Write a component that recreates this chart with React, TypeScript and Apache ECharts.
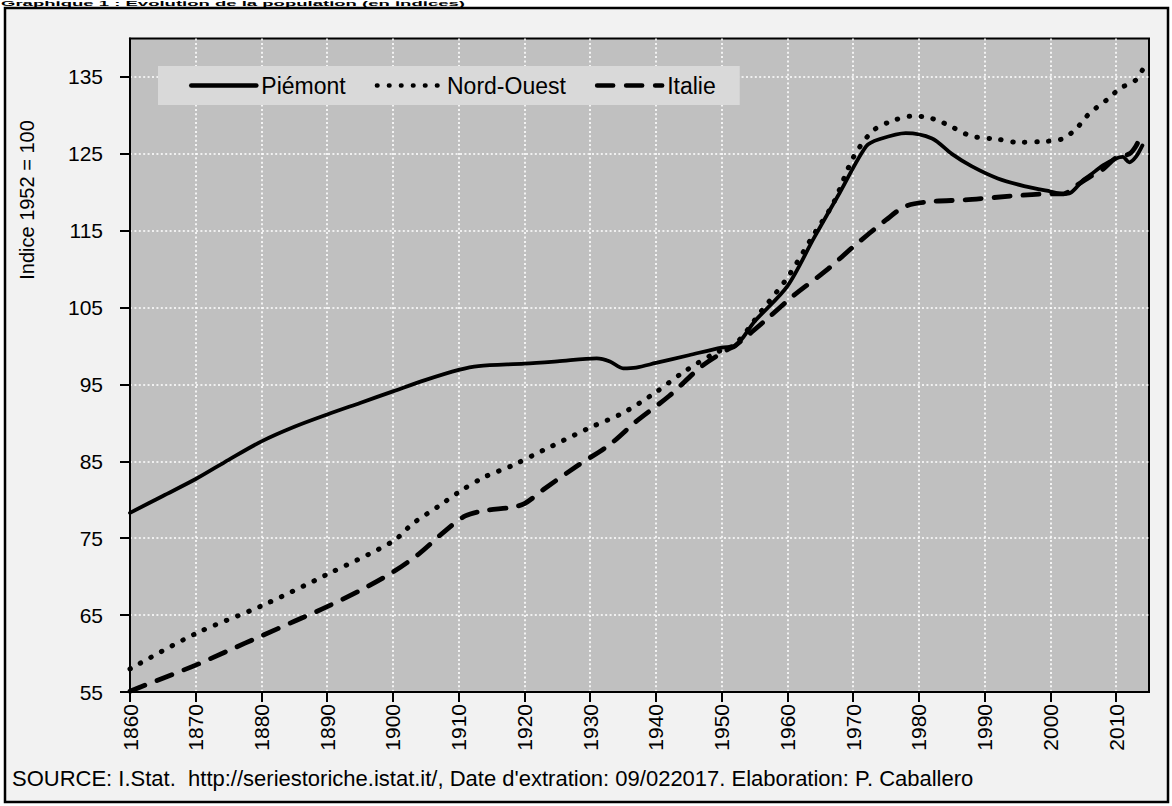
import React, { useEffect, useRef } from "react";
import * as echarts from "echarts";

const FONT = "'Liberation Sans', Arial, Helvetica, sans-serif";

const titleText = "Graphique 1 : Evolution de la population (en indices)";
const yAxisTitle = "Indice 1952 = 100";
const sourceText =
  "SOURCE: I.Stat.  http://seriestoriche.istat.it/, Date d'extration: 09/022017. Elaboration: P. Caballero";

const seriesNames = ["Piémont", "Nord-Ouest", "Italie"];

const xTickYears = [1860, 1870, 1880, 1890, 1900, 1910, 1920, 1930, 1940, 1950, 1960, 1970, 1980, 1990, 2000, 2010];
const yTickValues = [55, 65, 75, 85, 95, 105, 115, 125, 135];

const piemontYears = [1860, 1865, 1870, 1875, 1880, 1885, 1890, 1895, 1900, 1905, 1910, 1913, 1920, 1925, 1931, 1933, 1935, 1937, 1940, 1945, 1950, 1952, 1955, 1960, 1964, 1968, 1972, 1974, 1978, 1982, 1985, 1988, 1992, 1996, 2000, 2002, 2003, 2005, 2006, 2008, 2010, 2011, 2012, 2013, 2014];
const piemontValues = [78.3, 80.5, 82.7, 85.2, 87.6, 89.5, 91.1, 92.6, 94.1, 95.6, 96.9, 97.4, 97.7, 98.0, 98.4, 98.0, 97.1, 97.2, 97.8, 98.8, 99.8, 100, 103.2, 107.8, 114.0, 120.0, 126.0, 126.9, 127.7, 127.0, 125.0, 123.4, 121.8, 120.8, 120.1, 119.8, 119.9, 121.6, 122.2, 123.5, 124.4, 124.6, 123.9, 124.6, 126.1];

const nordOuestYears = [1860, 1870, 1880, 1890, 1900, 1903, 1907, 1910, 1914, 1918, 1923, 1930, 1935, 1940, 1944, 1949, 1952, 1956, 1960, 1964, 1967, 1970, 1973, 1976, 1979, 1981, 1983, 1985, 1988, 1992, 1995, 1999, 2001, 2002, 2004, 2005, 2006, 2007, 2009, 2010, 2011, 2013, 2014];
const nordOuestValues = [58.0, 62.6, 66.2, 70.3, 74.6, 76.9, 79.2, 81.0, 83.0, 84.4, 86.5, 89.4, 91.3, 94.0, 96.5, 99.1, 100.2, 104.5, 108.9, 114.5, 118.6, 124.5, 128.0, 129.3, 129.9, 129.8, 129.3, 128.5, 127.3, 126.9, 126.5, 126.6, 126.8, 127.0, 128.3, 129.4, 130.3, 131.0, 132.3, 133.1, 133.7, 134.6, 135.9];

const italieYears = [1860, 1865, 1870, 1875, 1880, 1885, 1890, 1895, 1900, 1904, 1908, 1911, 1914, 1918, 1920, 1923, 1928, 1933, 1937, 1942, 1947, 1951, 1952, 1957, 1961, 1966, 1970, 1975, 1978, 1982, 1987, 1994, 2000, 2002, 2004, 2006, 2008, 2010, 2012, 2013, 2014];
const italieValues = [55.1, 56.8, 58.5, 60.4, 62.3, 64.2, 66.1, 68.2, 70.6, 73.0, 76.0, 77.9, 78.6, 79.0, 79.5, 81.4, 84.4, 87.2, 90.2, 93.5, 97.4, 99.6, 100, 103.6, 106.6, 109.9, 112.9, 116.4, 118.2, 118.8, 119.0, 119.5, 119.8, 119.8, 120.9, 122.0, 123.0, 124.5, 125.0, 126.0, 127.8];

const pairs = (xs: number[], ys: number[]) => xs.map((x, i) => [x, ys[i]]);

export default function App() {
  const ref = useRef<HTMLDivElement>(null);

  useEffect(() => {
    if (!ref.current) return;
    const chart = echarts.init(ref.current, undefined, { renderer: "svg" });
    const splitLine = { show: true, lineStyle: { color: "#ffffff", width: 1.6, type: [2, 2.4] as any } };
    chart.setOption({
      animation: false,
      backgroundColor: "#ffffff",
      textStyle: { fontFamily: FONT },
      graphic: [
        {
          type: "rect",
          z: -100,
          silent: true,
          shape: { x: 5, y: 8, width: 1163, height: 794 },
          style: { fill: "#f2f2f2", stroke: "#000000", lineWidth: 2.5 },
        },
        {
          type: "text",
          x: 1,
          y: 0,
          scaleX: 2.85,
          silent: true,
          style: {
            text: titleText,
            font: `bold 6.5px ${FONT}`,
            fill: "#000000",
            align: "left",
            verticalAlign: "top",
          },
        },
        {
          type: "text",
          x: 27,
          y: 200,
          rotation: Math.PI / 2,
          silent: true,
          style: {
            text: yAxisTitle,
            font: `20px ${FONT}`,
            fill: "#000000",
            align: "center",
            verticalAlign: "middle",
          },
        },
        {
          type: "text",
          x: 12,
          y: 778,
          silent: true,
          style: {
            text: sourceText,
            font: `22px ${FONT}`,
            fill: "#000000",
            align: "left",
            verticalAlign: "middle",
          },
        },
      ],
      legend: {
        left: 158,
        top: 66,
        orient: "horizontal",
        padding: [8, 24, 8, 31],
        itemGap: 29,
        itemWidth: 65,
        itemHeight: 16,
        backgroundColor: "#d9d9d9",
        itemStyle: { opacity: 0 },
        lineStyle: { width: 4.6 },
        textStyle: { fontSize: 23, color: "#000000", fontFamily: FONT },
        data: seriesNames,
      },
      grid: {
        left: 130,
        right: 23,
        top: 38.5,
        bottom: 114,
        show: true,
        backgroundColor: "#c0c0c0",
        borderColor: "#000000",
        borderWidth: 2,
      },
      xAxis: {
        type: "value",
        min: 1860,
        max: 2015,
        interval: 10,
        axisLine: { show: true, onZero: false, lineStyle: { color: "#000000", width: 2 } },
        axisTick: { show: true, inside: false, length: 10, customValues: xTickYears, lineStyle: { color: "#000000", width: 2 } },
        axisLabel: {
          rotate: 90,
          margin: 12,
          fontSize: 21,
          color: "#000000",
          fontFamily: FONT,
          customValues: xTickYears,
          formatter: (v: number) => String(v),
        },
        splitLine,
      },
      yAxis: {
        type: "value",
        min: 55,
        max: 140,
        interval: 10,
        axisLine: { show: true, onZero: false, lineStyle: { color: "#000000", width: 2 } },
        axisTick: { show: true, inside: false, length: 10, customValues: yTickValues, lineStyle: { color: "#000000", width: 2 } },
        axisLabel: {
          margin: 27,
          fontSize: 21,
          color: "#000000",
          fontFamily: FONT,
          customValues: yTickValues,
          formatter: (v: number) => String(v),
        },
        splitLine,
      },
      series: [
        {
          name: seriesNames[0],
          type: "line",
          data: pairs(piemontYears, piemontValues),
          showSymbol: false,
          symbol: "none",
          smooth: 0.3,
          z: 4,
          itemStyle: { color: "#000000" },
          lineStyle: { color: "#000000", width: 3.8, type: "solid", cap: "round", join: "round" },
        },
        {
          name: seriesNames[1],
          type: "line",
          data: pairs(nordOuestYears, nordOuestValues),
          showSymbol: false,
          symbol: "none",
          smooth: 0.3,
          z: 3,
          itemStyle: { color: "#000000" },
          lineStyle: { color: "#000000", width: 5, type: [0.5, 11.5], cap: "round", join: "round" },
        },
        {
          name: seriesNames[2],
          type: "line",
          data: pairs(italieYears, italieValues),
          showSymbol: false,
          symbol: "none",
          smooth: 0.3,
          z: 2,
          itemStyle: { color: "#000000" },
          lineStyle: { color: "#000000", width: 4.8, type: [16, 13], cap: "round", join: "round" },
        },
      ],
    });
    return () => chart.dispose();
  }, []);

  return (
    <div
      ref={ref}
      style={{ position: "fixed", left: 0, top: 0, width: 1172, height: 806, background: "#ffffff" }}
    />
  );
}
